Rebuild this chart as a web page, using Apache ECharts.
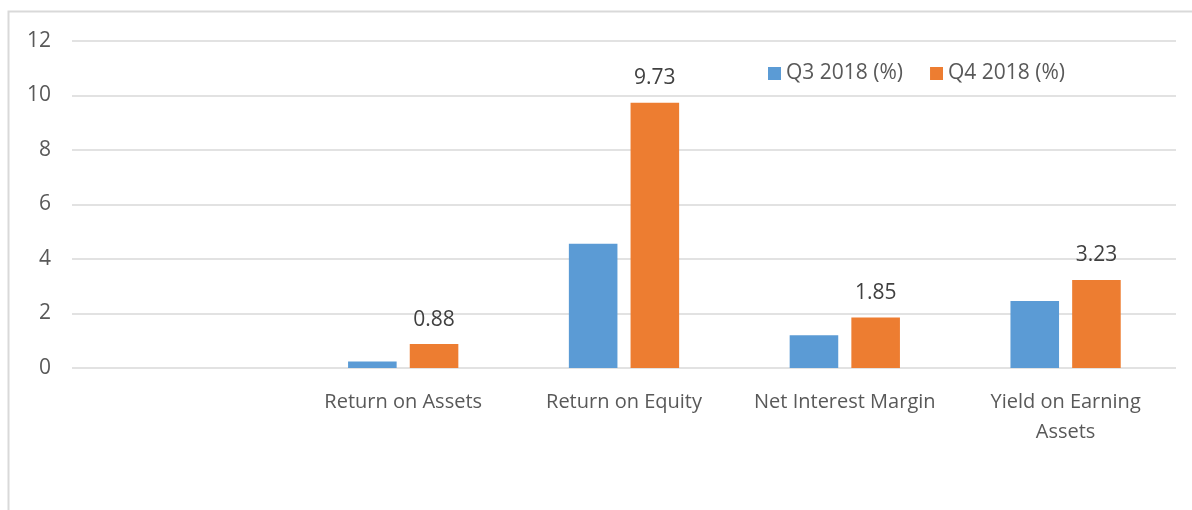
<!DOCTYPE html>
<html>
<head>
<meta charset="utf-8"/>
<title>Q3 vs Q4 2018</title>
<script src="https://cdn.jsdelivr.net/npm/echarts@6/dist/echarts.min.js"></script>
<style>
html,body{margin:0;padding:0;background:#fff;}
#main{width:1192px;height:510px;}
</style>
</head>
<body>
<div id="main"></div>
<script>
// categories (first one is blank in the original)
var categories = ['', 'Return on Assets', 'Return on Equity', 'Net Interest Margin', 'Yield on Earning\nAssets'];
var q3Values = [null, 0.24, 4.56, 1.2, 2.46];
var q4Values = [null, 0.88, 9.73, 1.85, 3.23];
var seriesNames = ['Q3 2018 (%)', 'Q4 2018 (%)'];

var myChart = echarts.init(document.getElementById('main'));
var fontName = 'Open Sans';

var option = {
    animation: false,
    textStyle: {fontFamily: fontName},
    graphic: [{
        type: 'rect',
        shape: {x: 8.5, y: 11.5, width: 1200, height: 520},
        style: {fill: 'none', stroke: '#d9d9d9', lineWidth: 2}
    }],
    legend: {
        data: seriesNames,
        left: 763,
        top: 58,
        itemWidth: 13,
        itemHeight: 13,
        itemGap: 27,
        icon: 'rect',
        textStyle: {fontFamily: fontName, fontSize: 21, color: '#595959'}
    },
    grid: {left: 72, right: 16, top: 41, bottom: 142, containLabel: false},
    xAxis: {
        type: 'category',
        data: categories,
        axisLine: {show: false},
        axisTick: {show: false},
        axisLabel: {
            fontFamily: fontName, fontSize: 20, color: '#595959',
            margin: 19, lineHeight: 30, interval: 0
        }
    },
    yAxis: {
        type: 'value',
        min: 0,
        max: 12,
        interval: 2,
        axisLine: {show: false},
        axisTick: {show: false},
        axisLabel: {fontFamily: fontName, fontSize: 21, color: '#595959', margin: 21},
        splitLine: {lineStyle: {color: '#d9d9d9', width: 1.5}}
    },
    series: [{
        name: seriesNames[0],
        type: 'bar',
        data: q3Values,
        barWidth: '22%',
        barGap: '27%',
        itemStyle: {color: '#5b9bd5'}
    }, {
        name: seriesNames[1],
        type: 'bar',
        data: q4Values,
        barWidth: '22%',
        itemStyle: {color: '#ed7d31'},
        label: {
            show: true,
            position: 'top',
            distance: 14,
            fontFamily: fontName,
            fontSize: 21,
            color: '#404040'
        }
    }]
};

myChart.setOption(option);
</script>
</body>
</html>
